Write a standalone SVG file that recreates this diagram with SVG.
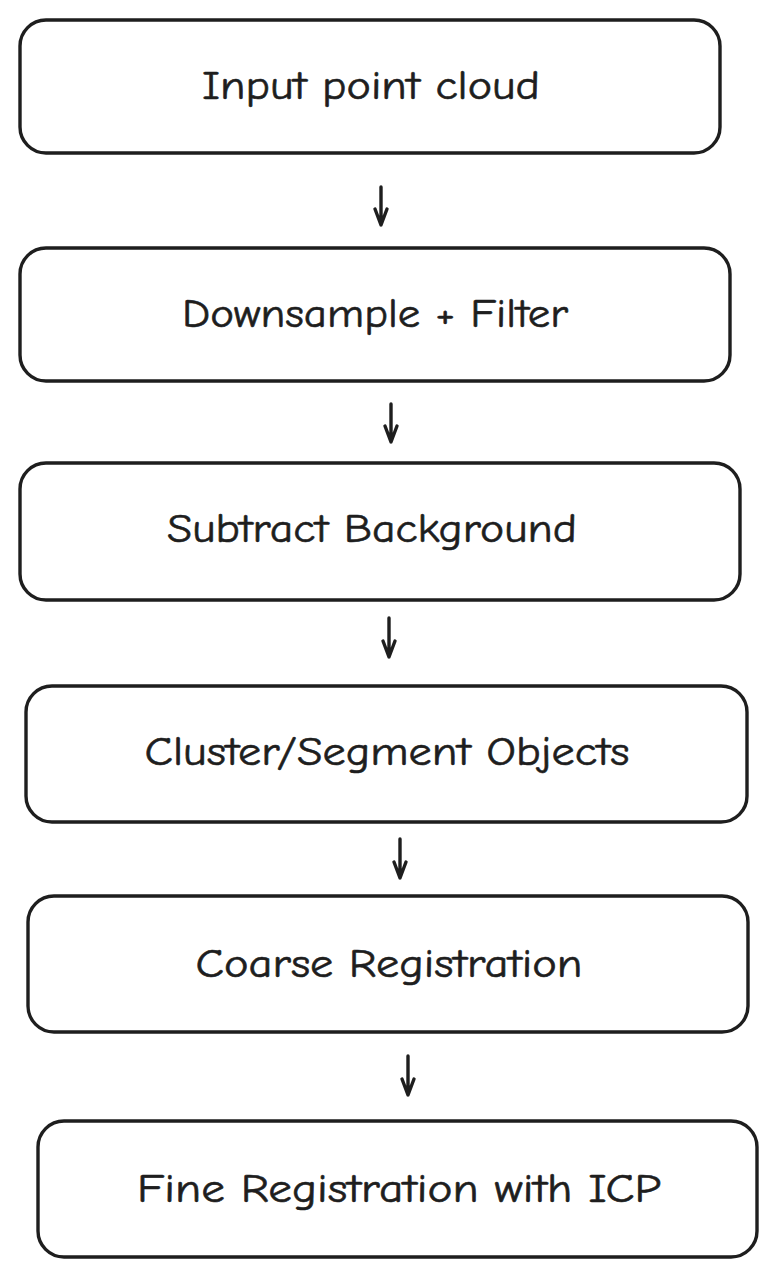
<svg xmlns="http://www.w3.org/2000/svg" width="778" height="1278" viewBox="0 0 778 1278">
<style>
.box{fill:#ffffff;stroke:#1e1e1e;stroke-width:3.4;stroke-linejoin:round}
.lbl{font-family:"Comic Neue","Liberation Sans",sans-serif;font-size:40px;fill:#1e1e1e;stroke:#1e1e1e;stroke-width:0.6;text-anchor:middle}
.arr{fill:none;stroke:#1e1e1e;stroke-width:3.4;stroke-linecap:round;stroke-linejoin:round}
</style>
<rect width="778" height="1278" fill="#ffffff"/>
<g id="node1"><rect class="box" x="20" y="20" width="700" height="133" rx="26"/><text class="lbl" x="371" y="99" textLength="338" lengthAdjust="spacingAndGlyphs">Input point cloud</text></g>
<g id="node2"><rect class="box" x="20" y="248" width="710" height="133" rx="26"/><text class="lbl" x="375" y="327" textLength="386" lengthAdjust="spacingAndGlyphs">Downsample + Filter</text></g>
<g id="node3"><rect class="box" x="20" y="463" width="720" height="137" rx="26"/><text class="lbl" x="372" y="542" textLength="410" lengthAdjust="spacingAndGlyphs">Subtract Background</text></g>
<g id="node4"><rect class="box" x="26" y="686" width="721" height="136" rx="26"/><text class="lbl" x="387" y="765" textLength="485" lengthAdjust="spacingAndGlyphs">Cluster/Segment Objects</text></g>
<g id="node5"><rect class="box" x="28" y="896" width="720" height="136" rx="26"/><text class="lbl" x="389" y="977" textLength="387" lengthAdjust="spacingAndGlyphs">Coarse Registration</text></g>
<g id="node6"><rect class="box" x="38" y="1121" width="719" height="136" rx="26"/><text class="lbl" x="399" y="1202" textLength="524" lengthAdjust="spacingAndGlyphs">Fine Registration with ICP</text></g>
<g id="connectors">
<path class="arr" d="M381 187 L381 225 M375 209 L381 225 L387 209"/>
<path class="arr" d="M391 404 L391 442 M385 426 L391 442 L397 426"/>
<path class="arr" d="M389 618 L389 657 M383 641 L389 657 L395 641"/>
<path class="arr" d="M400 839 L400 878 M394 862 L400 878 L406 862"/>
<path class="arr" d="M408 1056 L408 1095 M402 1079 L408 1095 L414 1079"/>
</g>
</svg>
